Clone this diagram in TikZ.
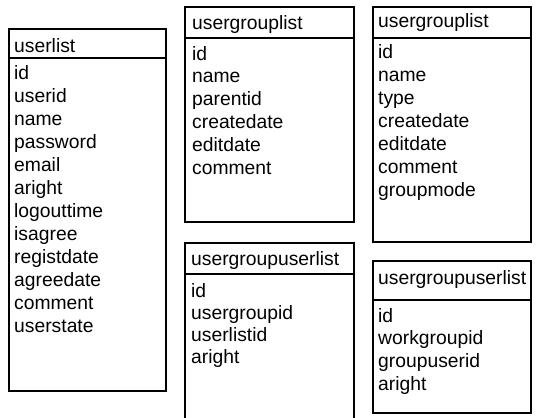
\documentclass[tikz,border=0pt]{standalone}
\usepackage{fontspec}
\setmainfont{Liberation Sans}
\begin{document}
\begin{tikzpicture}[x=1pt,y=-1pt,
  tblbox/.style={draw=black,line width=1.5pt},
  hdrline/.style={draw=black,line width=1.3pt},
  txt/.style={anchor=base west,inner sep=0pt,font=\fontsize{19.3}{23}\selectfont,text=black}]
\useasboundingbox (0,0) rectangle (536,418);
\clip (0,0) rectangle (536,418);
% userlist
\draw[tblbox] (9,29) rectangle (166,391);
\draw[hdrline] (9,58) -- (166,58);
\node[txt] (ulh) at (14,52) {userlist};
\foreach \t [count=\i from 0] in {id,userid,name,password,email,aright,logouttime,isagree,registdate,agreedate,comment,userstate}
  \node[txt] (ul\i) at (14,{79+23*\i}) {\t};
% usergrouplist (middle)
\draw[tblbox] (185,7) rectangle (354,222);
\draw[hdrline] (185,38) -- (354,38);
\node[txt] (g1h) at (192,29) {usergrouplist};
\foreach \t [count=\i from 0] in {id,name,parentid,createdate,editdate,comment}
  \node[txt] (g1\i) at (192,{60+22.8*\i}) {\t};
% usergroupuserlist (middle)
\draw[tblbox] (185,440) -- (185,243) -- (354,243) -- (354,440);
\draw[hdrline] (185,274) -- (354,274);
\node[txt] (gu1h) at (191,265) {usergroupuserlist};
\foreach \t [count=\i from 0] in {id,usergroupid,userlistid,aright}
  \node[txt] (gu1\i) at (191,{297+22*\i}) {\t};
% usergrouplist (right)
\draw[tblbox] (373,7) rectangle (531,242);
\draw[hdrline] (373,38) -- (531,38);
\node[txt] (g2h) at (378,27) {usergrouplist};
\foreach \t [count=\i from 0] in {id,name,type,createdate,editdate,comment,groupmode}
  \node[txt] (g2\i) at (378,{58+23*\i}) {\t};
% usergroupuserlist (right)
\draw[tblbox] (373,261) rectangle (531,413);
\draw[hdrline] (373,300) -- (531,300);
\node[txt] (gu2h) at (378,284) {usergroupuserlist};
\foreach \t [count=\i from 0] in {id,workgroupid,groupuserid,aright}
  \node[txt] (gu2\i) at (378,{322+22.7*\i}) {\t};
\end{tikzpicture}
\end{document}
